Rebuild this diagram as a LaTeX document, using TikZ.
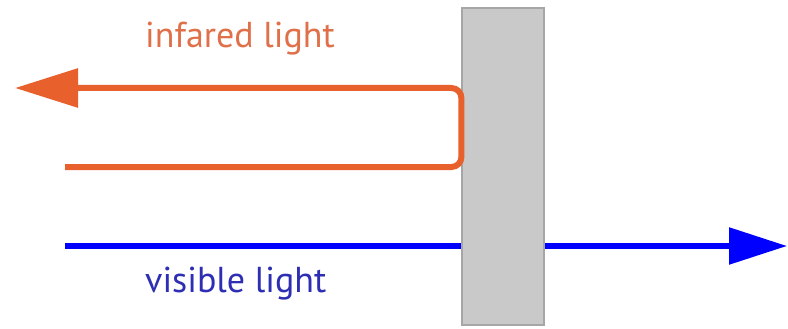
\documentclass[tikz,border=0pt]{standalone}
\usepackage{fontspec}
\setmainfont{PT Sans}
\usetikzlibrary{arrows.meta}
\definecolor{irorange}{HTML}{E8602C}
\definecolor{irtext}{HTML}{E0704A}
\definecolor{vistext}{HTML}{2E2EB4}
\definecolor{filtergray}{HTML}{C9C9C9}

\begin{document}
\begin{tikzpicture}[
		x=1pt, y=-1pt,
		filter/.style={draw=gray!70, line width=1.2pt, fill=filtergray, minimum width=82pt, minimum height=317pt, inner sep=0pt},
		irray/.style={draw=irorange, line width=6pt, rounded corners=10pt, -{Triangle[length=63pt,width=38pt]}},
		visray/.style={draw=blue, line width=5.5pt, -{Triangle[length=58pt,width=36pt]}},
		label/.style={inner sep=0pt, anchor=base west, font=\fontsize{36}{40}\selectfont}
		]
		\useasboundingbox (0,0) rectangle (788,329);
		% rays
		\coordinate (visin) at (65,246);
		\coordinate (visout) at (787,246);
		\coordinate (irin) at (65,167);
		\coordinate (irout) at (15,88);
		\draw[visray] (visin) -- (visout);
		% the filter
		\node[filter] (glass) at (503,166.5) {};
		\draw[irray] (irin) -- (irin -| glass.west) -- (irout -| glass.west) -- (irout);
		% labels
		\node[label, text=irtext] (irlabel) at (145,48) {infared light};
		\node[label, text=vistext] (vislabel) at (145,292) {visible light};
\end{tikzpicture}
\end{document}
